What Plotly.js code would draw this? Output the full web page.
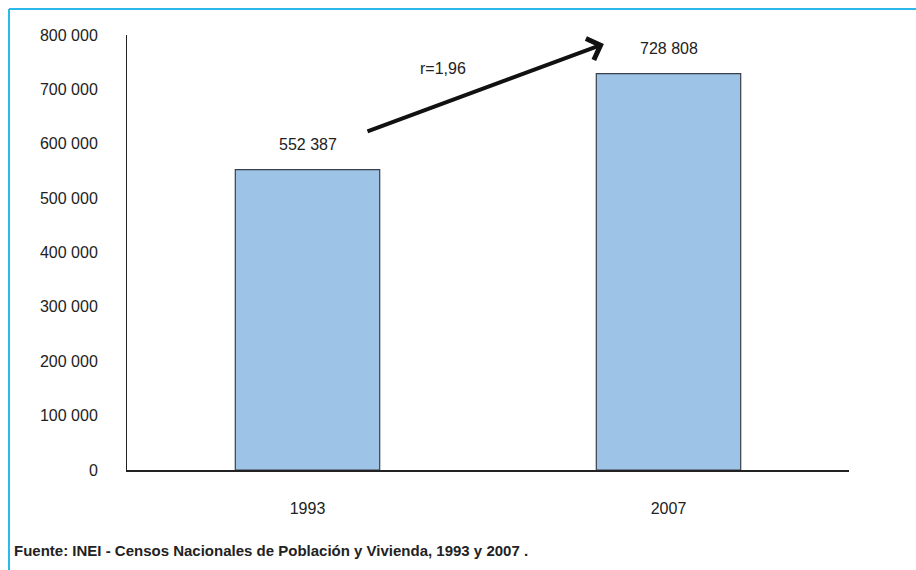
<!DOCTYPE html>
<html>
<head>
<meta charset="utf-8">
<script src="https://cdn.plot.ly/plotly-3.0.1.min.js"></script>
<style>
html,body{margin:0;padding:0;background:#fff;}
#chart{width:916px;height:570px;}
</style>
</head>
<body>
<div id="chart"></div>
<script>
const categories = ['1993', '2007'];
const values = [552387, 728808];
const yTicks = [0, 100000, 200000, 300000, 400000, 500000, 600000, 700000, 800000];
const rateLabel = 'r=1,96';
const sourceNote = 'Fuente: INEI - Censos Nacionales de Población y Vivienda, 1993 y 2007 .';

const fmt = v => String(v).replace(/\B(?=(\d{3})+(?!\d))/g, ' ');

const trace = {
  type: 'bar',
  x: categories,
  y: values,
  width: 0.4,
  marker: {color: '#9DC3E6', line: {color: '#3A3F48', width: 1.2}},
  hoverinfo: 'skip'
};

const valueLabels = categories.map((c, i) => ({
  xref: 'x', yref: 'y', x: i, y: values[i],
  text: fmt(values[i]), showarrow: false,
  yanchor: 'middle', yshift: 25,
  font: {size: 16, color: '#222'}
}));

const layout = {
  width: 916, height: 570,
  margin: {l: 127, r: 67, t: 35, b: 100},
  paper_bgcolor: '#fff', plot_bgcolor: '#fff',
  separators: ', ',
  showlegend: false,
  font: {family: 'Liberation Sans, Arial, sans-serif', size: 16, color: '#222'},
  xaxis: {
    type: 'category',
    range: [-0.5, 1.5],
    showline: true, linecolor: '#222', linewidth: 1.5,
    ticks: '', showgrid: false, zeroline: false,
    ticklabelstandoff: 23,
    tickfont: {size: 16, color: '#222'}
  },
  yaxis: {
    range: [0, 800000],
    tickvals: yTicks,
    tickformat: ',d',
    showline: true, linecolor: '#222', linewidth: 1,
    ticks: '', showgrid: false, zeroline: false,
    ticklabelstandoff: 25,
    tickfont: {size: 16, color: '#222'}
  },
  annotations: valueLabels.concat([
    {
      xref: 'x', yref: 'y',
      x: 0.821, y: 783448,
      ax: 0.162, ay: 621609,
      axref: 'x', ayref: 'y',
      showarrow: true, arrowhead: 4, arrowsize: 1.1, arrowwidth: 4,
      arrowcolor: '#111', text: ''
    },
    {
      xref: 'x', yref: 'y', x: 0.375, y: 738000,
      text: rateLabel, showarrow: false,
      font: {size: 16, color: '#222'}
    },
    {
      xref: 'paper', yref: 'paper',
      x: -0.159, y: -0.184, xanchor: 'left', yanchor: 'middle',
      text: '<b>' + sourceNote + '</b>', showarrow: false,
      font: {family: 'Liberation Sans Narrow, Arial Narrow, Liberation Sans, sans-serif', size: 15, color: '#222'}
    }
  ]),
  shapes: [
    {type: 'line', xref: 'paper', yref: 'paper', x0: -0.1634, x1: -0.1634, y0: 1.0598, y1: -0.24,
     line: {color: '#2BB8EA', width: 2}},
    {type: 'line', xref: 'paper', yref: 'paper', x0: -0.1634, x1: 1.1, y0: 1.0598, y1: 1.0598,
     line: {color: '#2BB8EA', width: 2}}
  ]
};

Plotly.newPlot('chart', [trace], layout, {displayModeBar: false, staticPlot: true});
</script>
</body>
</html>
